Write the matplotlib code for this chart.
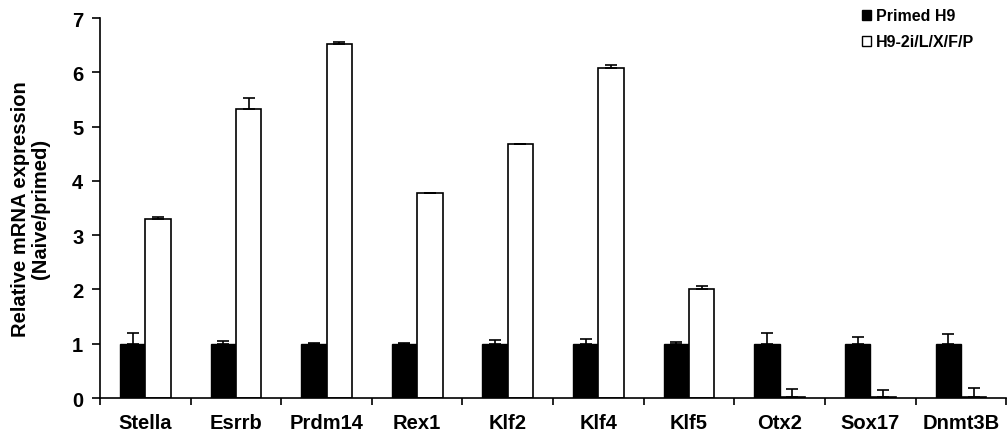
import matplotlib
matplotlib.use("Agg")
import matplotlib.pyplot as plt
import numpy as np
from matplotlib.patches import Patch

genes = ["Stella", "Esrrb", "Prdm14", "Rex1", "Klf2", "Klf4", "Klf5", "Otx2", "Sox17", "Dnmt3B"]
primed = [1.0, 1.0, 1.0, 1.0, 1.0, 1.0, 1.0, 1.0, 1.0, 1.0]
primed_err = [0.20, 0.05, 0.02, 0.02, 0.07, 0.09, 0.03, 0.19, 0.12, 0.17]
naive = [3.29, 5.33, 6.52, 3.77, 4.67, 6.07, 2.01, 0.02, 0.02, 0.02]
naive_err = [0.04, 0.19, 0.04, 0.01, 0.01, 0.07, 0.06, 0.14, 0.13, 0.16]

plt.rcParams["font.family"] = ["Liberation Sans", "DejaVu Sans"]
plt.rcParams["font.weight"] = "bold"

fig = plt.figure(figsize=(10.08, 4.39), dpi=100)
ax = fig.add_axes([0.0992, 0.0911, 0.899, 0.8656])

x = np.arange(len(genes))
w = 0.28
err_kw = dict(capsize=4, elinewidth=1.2, capthick=1.2, ecolor="black")
ax.bar(x - w / 2, primed, w, color="black", edgecolor="black", linewidth=1,
       yerr=[np.zeros(len(genes)), primed_err], error_kw=err_kw, label="Primed H9")
ax.bar(x + w / 2, naive, w, color="white", edgecolor="black", linewidth=1.2,
       yerr=[np.zeros(len(genes)), naive_err], error_kw=err_kw, label="H9-2i/L/X/F/P")

ax.set_xlim(-0.5, len(genes) - 0.5)
ax.set_ylim(0, 7)
ax.set_yticks(range(8))
ax.set_yticklabels([str(i) for i in range(8)], fontsize=14.5, fontweight="bold")
ax.set_xticks(x)
ax.set_xticklabels(genes, fontsize=14.5, fontweight="bold")
ax.tick_params(axis="x", which="major", length=0, pad=11)
ax.set_xticks(np.arange(-0.5, len(genes)), minor=True)
ax.tick_params(axis="x", which="minor", length=5, width=1.2, direction="out")
ax.tick_params(axis="y", length=6, width=1.2, direction="out", pad=6)
for s in ["top", "right"]:
    ax.spines[s].set_visible(False)
for s in ["left", "bottom"]:
    ax.spines[s].set_linewidth(1.2)

ax.set_ylabel("Relative mRNA expression\n(Naive/primed)", fontsize=14.5, fontweight="bold",
              labelpad=16, linespacing=1.05)

handles = [Patch(facecolor="black", edgecolor="black", label="Primed H9"),
           Patch(facecolor="white", edgecolor="black", label="H9-2i/L/X/F/P")]
fig.legend(handles=handles, loc="upper left", bbox_to_anchor=(0.854, 0.982), frameon=False,
           prop={"size": 11.5, "weight": "bold"}, handlelength=0.55, handleheight=0.55,
           handletextpad=0.3, labelspacing=0.68, borderpad=0.1, borderaxespad=0)

fig.savefig("out.png", dpi=100)
